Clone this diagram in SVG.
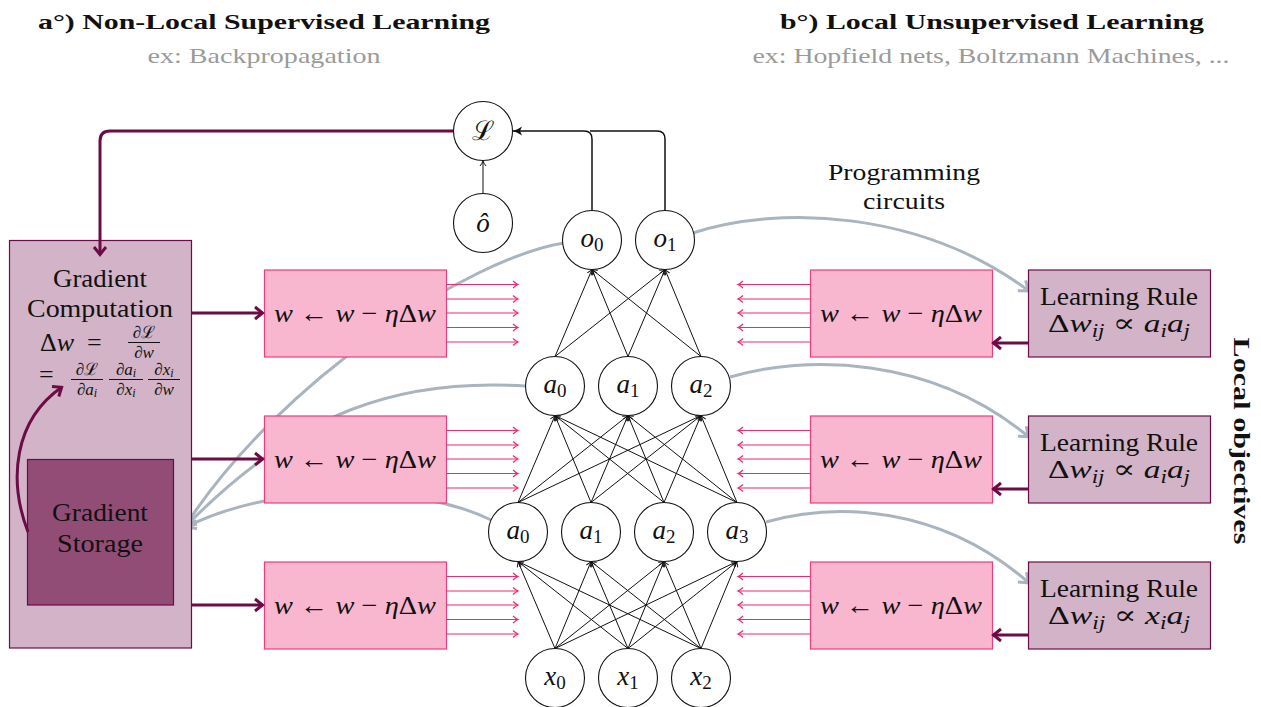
<svg xmlns="http://www.w3.org/2000/svg" width="1261" height="707" viewBox="0 0 1261 707">
<style>
text{font-family:"Liberation Serif","DejaVu Serif",serif;fill:#111}
.it{font-style:italic}
.title{font-weight:bold;font-size:22px}
.sub{fill:#9a9a9a;font-size:21px}
.lbl{font-size:27px;text-anchor:middle}
.node circle{fill:#fff;stroke:#111;stroke-width:1.1}
.pink rect{fill:#f9b6cf;stroke:#ef3b7b;stroke-width:1.2}
.rule rect{fill:#d2b3c7;stroke:#6b0c46;stroke-width:1.2}
.net line{stroke:#111;stroke-width:1}
.pa{stroke:#f02a6f;stroke-width:1.2}
.pur{stroke:#6b0c46;stroke-width:3;fill:none}
.gray{stroke:#a9b4bf;stroke-width:3;fill:none}
.eq{font-size:26px;text-anchor:middle}
.fr{font-size:17px;text-anchor:middle}
</style>
<defs>
<marker id="ah" markerUnits="userSpaceOnUse" viewBox="-8 -5 10 10" refX="0" refY="0" markerWidth="10" markerHeight="10" orient="auto">
<path d="M-5,-3 Q-2,-0.6 0,0 Q-2,0.6 -5,3" fill="none" stroke="#111" stroke-width="1"/>
</marker>
<marker id="ahL" markerUnits="userSpaceOnUse" viewBox="-12 -6 14 12" refX="0" refY="0" markerWidth="14" markerHeight="12" orient="auto">
<path d="M-9,-4.5 Q-4,-1 0,0 Q-4,1 -9,4.5 L-7,0 Z" fill="#111"/>
</marker>
<marker id="ahP" markerUnits="userSpaceOnUse" viewBox="-10 -8 12 16" refX="0" refY="0" markerWidth="12" markerHeight="16" orient="auto">
<path d="M-8,-6 L-0.5,0 L-8,6" fill="none" stroke="#6b0c46" stroke-width="3"/>
</marker>
<marker id="ahG" markerUnits="userSpaceOnUse" viewBox="-12 -9 14 18" refX="0" refY="0" markerWidth="14" markerHeight="18" orient="auto">
<path d="M-9,-6.5 Q-3,-1.5 0,0 Q-3,1.5 -9,6.5" fill="none" stroke="#a9b4bf" stroke-width="3"/>
</marker>
<marker id="ahK" markerUnits="userSpaceOnUse" viewBox="-8 -5 10 10" refX="0" refY="0" markerWidth="10" markerHeight="10" orient="auto">
<path d="M-5,-3.5 Q-2,-0.7 0,0 Q-2,0.7 -5,3.5" fill="none" stroke="#f02a6f" stroke-width="1.2"/>
</marker>
</defs>

<!-- Titles -->
<text class="title" x="264" y="29" text-anchor="middle" textLength="452" lengthAdjust="spacingAndGlyphs">a°) Non-Local Supervised Learning</text>
<text class="sub" x="264" y="63" text-anchor="middle" textLength="233" lengthAdjust="spacingAndGlyphs">ex: Backpropagation</text>
<text class="title" x="992" y="29" text-anchor="middle" textLength="424" lengthAdjust="spacingAndGlyphs">b°) Local Unsupervised Learning</text>
<text class="sub" x="991" y="63" text-anchor="middle" textLength="477" lengthAdjust="spacingAndGlyphs">ex: Hopfield nets, Boltzmann Machines, ...</text>
<text x="904" y="180" text-anchor="middle" font-size="23" textLength="152" lengthAdjust="spacingAndGlyphs">Programming</text>
<text x="904" y="209" text-anchor="middle" font-size="23" textLength="82" lengthAdjust="spacingAndGlyphs">circuits</text>
<text x="1234" y="441" transform="rotate(90 1234 441)" text-anchor="middle" font-weight="bold" font-size="23" textLength="207" lengthAdjust="spacingAndGlyphs">Local objectives</text>

<!-- Gray programming curves (below boxes) -->
<g id="programming-curves">
<path class="gray" d="M564,243 C470,258 280,380 186,525" marker-end="url(#ahG)"/>
<path class="gray" d="M526,386 C400,378 300,410 186,526" marker-end="url(#ahG)"/>
<path class="gray" d="M491,520 C420,485 280,480 186,527" marker-end="url(#ahG)"/>
<path class="gray" d="M693,233 C780,205 920,210 1029,291" marker-end="url(#ahG)"/>
<path class="gray" d="M730,377 C805,355 930,355 1029,437" marker-end="url(#ahG)"/>
<path class="gray" d="M766,522 C835,502 940,505 1029,583" marker-end="url(#ahG)"/>
</g>

<!-- Gradient computation box -->
<g id="gradient-computation" class="rule">
<rect x="9.5" y="240.5" width="182" height="407.5"/>
<text x="100" y="287" text-anchor="middle" font-size="25" textLength="94" lengthAdjust="spacingAndGlyphs">Gradient</text>
<text x="100" y="317" text-anchor="middle" font-size="25" textLength="146" lengthAdjust="spacingAndGlyphs">Computation</text>
<text x="40" y="351" font-size="26">Δ<tspan class="it">w</tspan></text>
<text x="87" y="351" font-size="26">=</text>
<text class="fr" x="144" y="338">∂ℒ</text>
<line x1="128" y1="342.5" x2="160" y2="342.5" stroke="#111" stroke-width="1"/>
<text class="fr" x="144" y="358">∂<tspan class="it">w</tspan></text>
<text x="39" y="383" font-size="26">=</text>
<text class="fr" x="87" y="375">∂ℒ</text>
<line x1="71" y1="379.5" x2="103" y2="379.5" stroke="#111" stroke-width="1"/>
<text class="fr" x="87" y="395">∂<tspan class="it">a</tspan><tspan class="it" font-size="12" dy="2">i</tspan></text>
<text class="fr" x="126" y="375">∂<tspan class="it">a</tspan><tspan class="it" font-size="12" dy="2">i</tspan></text>
<line x1="109" y1="379.5" x2="143" y2="379.5" stroke="#111" stroke-width="1"/>
<text class="fr" x="126" y="395">∂<tspan class="it">x</tspan><tspan class="it" font-size="12" dy="2">i</tspan></text>
<text class="fr" x="164" y="375">∂<tspan class="it">x</tspan><tspan class="it" font-size="12" dy="2">i</tspan></text>
<line x1="148" y1="379.5" x2="180" y2="379.5" stroke="#111" stroke-width="1"/>
<text class="fr" x="164" y="395">∂<tspan class="it">w</tspan></text>
</g>
<g id="gradient-storage">
<rect x="27.5" y="459.5" width="146" height="145.5" fill="#914d76" stroke="#6b0c46" stroke-width="1.2"/>
<text x="100" y="521" text-anchor="middle" font-size="25" textLength="96" lengthAdjust="spacingAndGlyphs">Gradient</text>
<text x="100" y="552" text-anchor="middle" font-size="25" textLength="86" lengthAdjust="spacingAndGlyphs">Storage</text>
</g>

<!-- Pink update boxes -->
<g id="update-left-1" class="pink"><rect x="264.5" y="270" width="182" height="87"/>
<text class="eq" x="355" y="322" textLength="162" lengthAdjust="spacingAndGlyphs"><tspan class="it">w</tspan> ← <tspan class="it">w</tspan> − <tspan class="it">η</tspan>Δ<tspan class="it">w</tspan></text></g>
<g id="update-left-2" class="pink"><rect x="264.5" y="416" width="182" height="87"/>
<text class="eq" x="355" y="468" textLength="162" lengthAdjust="spacingAndGlyphs"><tspan class="it">w</tspan> ← <tspan class="it">w</tspan> − <tspan class="it">η</tspan>Δ<tspan class="it">w</tspan></text></g>
<g id="update-left-3" class="pink"><rect x="264.5" y="562" width="182" height="87"/>
<text class="eq" x="355" y="614" textLength="162" lengthAdjust="spacingAndGlyphs"><tspan class="it">w</tspan> ← <tspan class="it">w</tspan> − <tspan class="it">η</tspan>Δ<tspan class="it">w</tspan></text></g>
<g id="update-right-1" class="pink"><rect x="810.5" y="270" width="182" height="87"/>
<text class="eq" x="901" y="322" textLength="162" lengthAdjust="spacingAndGlyphs"><tspan class="it">w</tspan> ← <tspan class="it">w</tspan> − <tspan class="it">η</tspan>Δ<tspan class="it">w</tspan></text></g>
<g id="update-right-2" class="pink"><rect x="810.5" y="416" width="182" height="87"/>
<text class="eq" x="901" y="468" textLength="162" lengthAdjust="spacingAndGlyphs"><tspan class="it">w</tspan> ← <tspan class="it">w</tspan> − <tspan class="it">η</tspan>Δ<tspan class="it">w</tspan></text></g>
<g id="update-right-3" class="pink"><rect x="810.5" y="562" width="182" height="87"/>
<text class="eq" x="901" y="614" textLength="162" lengthAdjust="spacingAndGlyphs"><tspan class="it">w</tspan> ← <tspan class="it">w</tspan> − <tspan class="it">η</tspan>Δ<tspan class="it">w</tspan></text></g>

<!-- Learning rule boxes -->
<g id="rule-1" class="rule"><rect x="1028.5" y="270" width="182" height="87"/>
<text x="1119" y="305" font-size="25" text-anchor="middle" textLength="158" lengthAdjust="spacingAndGlyphs">Learning Rule</text>
<text x="1119" y="332" font-size="26" text-anchor="middle" textLength="142" lengthAdjust="spacingAndGlyphs">Δ<tspan class="it">w</tspan><tspan class="it" font-size="18" dy="5">ij</tspan><tspan dy="-5"> ∝ </tspan><tspan class="it">a</tspan><tspan class="it" font-size="18" dy="5">i</tspan><tspan class="it" dy="-5">a</tspan><tspan class="it" font-size="18" dy="5">j</tspan></text></g>
<g id="rule-2" class="rule"><rect x="1028.5" y="416" width="182" height="87"/>
<text x="1119" y="451" font-size="25" text-anchor="middle" textLength="158" lengthAdjust="spacingAndGlyphs">Learning Rule</text>
<text x="1119" y="478" font-size="26" text-anchor="middle" textLength="142" lengthAdjust="spacingAndGlyphs">Δ<tspan class="it">w</tspan><tspan class="it" font-size="18" dy="5">ij</tspan><tspan dy="-5"> ∝ </tspan><tspan class="it">a</tspan><tspan class="it" font-size="18" dy="5">i</tspan><tspan class="it" dy="-5">a</tspan><tspan class="it" font-size="18" dy="5">j</tspan></text></g>
<g id="rule-3" class="rule"><rect x="1028.5" y="562" width="182" height="87"/>
<text x="1119" y="597" font-size="25" text-anchor="middle" textLength="158" lengthAdjust="spacingAndGlyphs">Learning Rule</text>
<text x="1119" y="624" font-size="26" text-anchor="middle" textLength="142" lengthAdjust="spacingAndGlyphs">Δ<tspan class="it">w</tspan><tspan class="it" font-size="18" dy="5">ij</tspan><tspan dy="-5"> ∝ </tspan><tspan class="it">x</tspan><tspan class="it" font-size="18" dy="5">i</tspan><tspan class="it" dy="-5">a</tspan><tspan class="it" font-size="18" dy="5">j</tspan></text></g>

<!-- Connectors -->
<g id="connectors">
<g id="pink-arrows" class="pa" marker-end="url(#ahK)">
<line x1="446" y1="284.5" x2="518" y2="284.5"/><line x1="446" y1="299" x2="518" y2="299"/><line x1="446" y1="313" x2="518" y2="313"/><line x1="446" y1="327.5" x2="518" y2="327.5"/><line x1="446" y1="342" x2="518" y2="342"/>
<line x1="446" y1="430.5" x2="518" y2="430.5"/><line x1="446" y1="445" x2="518" y2="445"/><line x1="446" y1="459" x2="518" y2="459"/><line x1="446" y1="473.5" x2="518" y2="473.5"/><line x1="446" y1="488" x2="518" y2="488"/>
<line x1="446" y1="576.5" x2="518" y2="576.5"/><line x1="446" y1="591" x2="518" y2="591"/><line x1="446" y1="605" x2="518" y2="605"/><line x1="446" y1="619.5" x2="518" y2="619.5"/><line x1="446" y1="634" x2="518" y2="634"/>
<line x1="810" y1="284.5" x2="738" y2="284.5"/><line x1="810" y1="299" x2="738" y2="299"/><line x1="810" y1="313" x2="738" y2="313"/><line x1="810" y1="327.5" x2="738" y2="327.5"/><line x1="810" y1="342" x2="738" y2="342"/>
<line x1="810" y1="430.5" x2="738" y2="430.5"/><line x1="810" y1="445" x2="738" y2="445"/><line x1="810" y1="459" x2="738" y2="459"/><line x1="810" y1="473.5" x2="738" y2="473.5"/><line x1="810" y1="488" x2="738" y2="488"/>
<line x1="810" y1="576.5" x2="738" y2="576.5"/><line x1="810" y1="591" x2="738" y2="591"/><line x1="810" y1="605" x2="738" y2="605"/><line x1="810" y1="619.5" x2="738" y2="619.5"/><line x1="810" y1="634" x2="738" y2="634"/>
</g>
<g id="purple-arrows" class="pur" marker-end="url(#ahP)">
<path d="M453.5,131 H110 Q100,131 100,141 V255"/>
<path d="M28,532 C8,480 14,420 62,387"/>
<line x1="192" y1="313" x2="263" y2="313"/>
<line x1="192" y1="459" x2="263" y2="459"/>
<line x1="192" y1="605" x2="263" y2="605"/>
<line x1="1028" y1="343" x2="993" y2="343"/>
<line x1="1028" y1="489" x2="993" y2="489"/>
<line x1="1028" y1="635" x2="993" y2="635"/>
</g>
<g id="loss-links" fill="none" stroke="#111">
<path d="M592,210.5 V139 Q592,131 584,131 H513" stroke-width="1.5" marker-end="url(#ahL)"/>
<path d="M665,210.5 V139 Q665,131 657,131 H590" stroke-width="1.5"/>
<line x1="483" y1="193.5" x2="483" y2="161" stroke-width="1" marker-end="url(#ah)"/>
</g>
<g id="net" class="net" marker-end="url(#ah)">
<line x1="555" y1="648.5" x2="518" y2="561.5"/><line x1="555" y1="648.5" x2="591" y2="561.5"/><line x1="555" y1="648.5" x2="664" y2="561.5"/><line x1="555" y1="648.5" x2="737" y2="561.5"/>
<line x1="628" y1="648.5" x2="518" y2="561.5"/><line x1="628" y1="648.5" x2="591" y2="561.5"/><line x1="628" y1="648.5" x2="664" y2="561.5"/><line x1="628" y1="648.5" x2="737" y2="561.5"/>
<line x1="701" y1="648.5" x2="518" y2="561.5"/><line x1="701" y1="648.5" x2="591" y2="561.5"/><line x1="701" y1="648.5" x2="664" y2="561.5"/><line x1="701" y1="648.5" x2="737" y2="561.5"/>
<line x1="518" y1="502.5" x2="555" y2="415.5"/><line x1="518" y1="502.5" x2="628" y2="415.5"/><line x1="518" y1="502.5" x2="701" y2="415.5"/>
<line x1="591" y1="502.5" x2="555" y2="415.5"/><line x1="591" y1="502.5" x2="628" y2="415.5"/><line x1="591" y1="502.5" x2="701" y2="415.5"/>
<line x1="664" y1="502.5" x2="555" y2="415.5"/><line x1="664" y1="502.5" x2="628" y2="415.5"/><line x1="664" y1="502.5" x2="701" y2="415.5"/>
<line x1="737" y1="502.5" x2="555" y2="415.5"/><line x1="737" y1="502.5" x2="628" y2="415.5"/><line x1="737" y1="502.5" x2="701" y2="415.5"/>
<line x1="555" y1="356.5" x2="592" y2="269.5"/><line x1="555" y1="356.5" x2="665" y2="269.5"/>
<line x1="628" y1="356.5" x2="592" y2="269.5"/><line x1="628" y1="356.5" x2="665" y2="269.5"/>
<line x1="701" y1="356.5" x2="592" y2="269.5"/><line x1="701" y1="356.5" x2="665" y2="269.5"/>
</g>
</g>

<!-- Nodes -->
<g id="node-L" class="node"><circle cx="483" cy="131" r="29.5"/><text class="lbl" x="483" y="140">ℒ</text></g>
<g id="node-ohat" class="node"><circle cx="483" cy="223" r="29.5"/><text class="lbl it" x="483" y="232">ô</text></g>
<g id="node-o0" class="node"><circle cx="592" cy="240" r="29.5"/><text class="lbl" x="592" y="247"><tspan class="it">o</tspan><tspan font-size="19" dy="4">0</tspan></text></g>
<g id="node-o1" class="node"><circle cx="665" cy="240" r="29.5"/><text class="lbl" x="665" y="247"><tspan class="it">o</tspan><tspan font-size="19" dy="4">1</tspan></text></g>
<g id="node-h2-0" class="node"><circle cx="555" cy="386" r="29.5"/><text class="lbl" x="555" y="393"><tspan class="it">a</tspan><tspan font-size="19" dy="4">0</tspan></text></g>
<g id="node-h2-1" class="node"><circle cx="628" cy="386" r="29.5"/><text class="lbl" x="628" y="393"><tspan class="it">a</tspan><tspan font-size="19" dy="4">1</tspan></text></g>
<g id="node-h2-2" class="node"><circle cx="701" cy="386" r="29.5"/><text class="lbl" x="701" y="393"><tspan class="it">a</tspan><tspan font-size="19" dy="4">2</tspan></text></g>
<g id="node-h1-0" class="node"><circle cx="518" cy="532" r="29.5"/><text class="lbl" x="518" y="539"><tspan class="it">a</tspan><tspan font-size="19" dy="4">0</tspan></text></g>
<g id="node-h1-1" class="node"><circle cx="591" cy="532" r="29.5"/><text class="lbl" x="591" y="539"><tspan class="it">a</tspan><tspan font-size="19" dy="4">1</tspan></text></g>
<g id="node-h1-2" class="node"><circle cx="664" cy="532" r="29.5"/><text class="lbl" x="664" y="539"><tspan class="it">a</tspan><tspan font-size="19" dy="4">2</tspan></text></g>
<g id="node-h1-3" class="node"><circle cx="737" cy="532" r="29.5"/><text class="lbl" x="737" y="539"><tspan class="it">a</tspan><tspan font-size="19" dy="4">3</tspan></text></g>
<g id="node-x0" class="node"><circle cx="555" cy="678" r="29.5"/><text class="lbl" x="555" y="685"><tspan class="it">x</tspan><tspan font-size="19" dy="4">0</tspan></text></g>
<g id="node-x1" class="node"><circle cx="628" cy="678" r="29.5"/><text class="lbl" x="628" y="685"><tspan class="it">x</tspan><tspan font-size="19" dy="4">1</tspan></text></g>
<g id="node-x2" class="node"><circle cx="701" cy="678" r="29.5"/><text class="lbl" x="701" y="685"><tspan class="it">x</tspan><tspan font-size="19" dy="4">2</tspan></text></g>
</svg>
